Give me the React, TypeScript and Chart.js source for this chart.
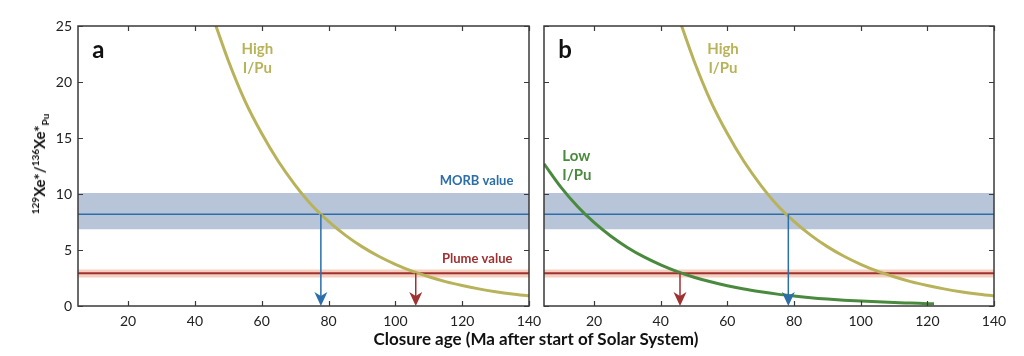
import React, { useEffect, useRef } from "react";
import { Chart, registerables } from "chart.js";
Chart.register(...registerables);

// ---- data ----
const highX = [45, 50, 55, 60, 65, 70, 75, 80, 85, 90, 95, 100, 105, 110, 115, 120, 125, 130, 135, 140];
const highY = [26.1, 21.9, 18.3, 15.4, 12.9, 10.8, 9.0, 7.56, 6.33, 5.3, 4.44, 3.72, 3.11, 2.61, 2.18, 1.83, 1.53, 1.28, 1.07, 0.9];
const lowX = [5, 10, 15, 20, 25, 30, 35, 40, 45, 50, 55, 60, 65, 70, 75, 80, 85, 90, 95, 100, 105, 110, 115, 120, 122];
const lowY = [12.7, 10.64, 8.91, 7.46, 6.25, 5.23, 4.38, 3.67, 3.07, 2.57, 2.16, 1.81, 1.51, 1.27, 1.06, 0.89, 0.74, 0.62, 0.52, 0.44, 0.37, 0.31, 0.26, 0.21, 0.19];
const morbValue = 8.2;
const morbRange = [6.85, 10.1];
const plumeValue = 2.92;
const plumeRange = [2.54, 3.25];
const arrowsA = [ { x: 77.7, y: 8.2, kind: "morb" }, { x: 106.1, y: 2.95, kind: "plume" } ];
const arrowsB = [ { x: 78.3, y: 8.2, kind: "morb" }, { x: 45.8, y: 2.95, kind: "plume" } ];
const xTicks = [20, 40, 60, 80, 100, 120, 140];
const yTicks = [0, 5, 10, 15, 20, 25];
const xRange = [5, 140];
const yRange = [0, 25];

const FONT = "Lato, 'Open Sans', sans-serif";
const OLIVE = "#b8b35a";
const GREEN = "#4a8a3e";
const BLUE = "#2b6ea9";
const BLUE_BAND = "#b8c5d9";
const RED = "#a03131";
const RED_BAND = "#f5cfc0";

const pts = (xs: number[], ys: number[]) => xs.map((x, i) => ({ x, y: ys[i] }));
const hline = (v: number) => [{ x: xRange[0], y: v }, { x: xRange[1], y: v }];

type Label = { x: number; y: number; text: string; color: string; size: number; align?: CanvasTextAlign };

const framePlugin = {
  id: "frame",
  afterDatasetsDraw(chart: any, _a: any, opts: any) {
    const { ctx, chartArea: ca, scales } = chart;
    const xs = scales.x, ys = scales.y;
    ctx.save();
    // arrows
    (opts.arrows || []).forEach((a: any) => {
      const col = a.kind === "morb" ? BLUE : RED;
      const px = xs.getPixelForValue(a.x);
      const py = ys.getPixelForValue(a.y);
      const p0 = ys.getPixelForValue(0);
      ctx.strokeStyle = col;
      ctx.fillStyle = col;
      ctx.lineWidth = 1.5;
      ctx.beginPath();
      ctx.moveTo(px, py);
      ctx.lineTo(px, p0 - 8);
      ctx.stroke();
      ctx.beginPath();
      ctx.moveTo(px, p0);
      ctx.lineTo(px - 6.5, p0 - 14);
      ctx.lineTo(px, p0 - 10);
      ctx.lineTo(px + 6.5, p0 - 14);
      ctx.closePath();
      ctx.fill();
    });
    // labels
    (opts.labels || []).forEach((l: Label) => {
      ctx.fillStyle = l.color;
      ctx.font = `bold ${l.size}px ${FONT}`;
      ctx.textAlign = l.align || "center";
      ctx.textBaseline = "middle";
      ctx.fillText(l.text, xs.getPixelForValue(l.x), ys.getPixelForValue(l.y));
    });
    // frame
    ctx.strokeStyle = "#3a3a3a";
    ctx.lineWidth = 1.5;
    ctx.strokeRect(ca.left, ca.top, ca.right - ca.left, ca.bottom - ca.top);
    ctx.lineWidth = 1.2;
    const tl = 5;
    ctx.beginPath();
    xTicks.forEach((v) => {
      const px = Math.round(xs.getPixelForValue(v)) + 0.5;
      ctx.moveTo(px, ca.bottom); ctx.lineTo(px, ca.bottom - tl);
      ctx.moveTo(px, ca.top); ctx.lineTo(px, ca.top + tl);
    });
    yTicks.forEach((v) => {
      const py = Math.round(ys.getPixelForValue(v)) + 0.5;
      ctx.moveTo(ca.left, py); ctx.lineTo(ca.left + tl, py);
      ctx.moveTo(ca.right, py); ctx.lineTo(ca.right - tl, py);
    });
    ctx.stroke();
    ctx.restore();
  },
};

function makeConfig(panel: "a" | "b") {
  const datasets: any[] = [
    { data: pts(highX, highY), borderColor: OLIVE, borderWidth: 3, pointRadius: 0, cubicInterpolationMode: "monotone", order: 0, fill: false },
  ];
  if (panel === "b") {
    datasets.push({ data: pts(lowX, lowY), borderColor: GREEN, borderWidth: 3, pointRadius: 0, cubicInterpolationMode: "monotone", order: 0, fill: false });
  }
  datasets.push(
    { data: hline(morbValue), borderColor: BLUE, borderWidth: 1.5, pointRadius: 0, order: 1, fill: false },
    { data: hline(plumeValue), borderColor: RED, borderWidth: 2, pointRadius: 0, order: 1, fill: false },
  );
  const n = datasets.length;
  datasets.push(
    { data: hline(morbRange[1]), borderWidth: 0, pointRadius: 0, backgroundColor: BLUE_BAND, fill: n + 1, order: 2 },
    { data: hline(morbRange[0]), borderWidth: 0, pointRadius: 0, fill: false, order: 2 },
    { data: hline(plumeRange[1]), borderWidth: 0, pointRadius: 0, backgroundColor: RED_BAND, fill: n + 3, order: 2 },
    { data: hline(plumeRange[0]), borderWidth: 0, pointRadius: 0, fill: false, order: 2 },
  );
  const labels: Label[] = [
    { x: 58.7, y: 22.9, text: "High", color: OLIVE, size: 15 },
    { x: 58.7, y: 21.2, text: "I/Pu", color: OLIVE, size: 15 },
  ];
  if (panel === "a") {
    labels.push(
      { x: 9.3, y: 22.8, text: "a", color: "#111", size: 24, align: "left" },
      { x: 124.3, y: 11.2, text: "MORB value", color: BLUE, size: 13 },
      { x: 124.5, y: 4.2, text: "Plume value", color: RED, size: 13 },
    );
  } else {
    labels.push(
      { x: 9.3, y: 22.8, text: "b", color: "#111", size: 24, align: "left" },
      { x: 10.5, y: 13.4, text: "Low", color: GREEN, size: 15, align: "left" },
      { x: 10.5, y: 11.7, text: "I/Pu", color: GREEN, size: 15, align: "left" },
    );
  }
  return {
    type: "line",
    data: { datasets },
    plugins: [framePlugin],
    options: {
      animation: false,
      responsive: false,
      parsing: false,
      layout: { padding: panel === "a" ? { left: 0, right: 24, top: 18, bottom: 0 } : { left: 14, right: 22, top: 18, bottom: 0 } },
      plugins: {
        legend: { display: false },
        tooltip: { enabled: false },
        frame: { arrows: panel === "a" ? arrowsA : arrowsB, labels },
      },
      scales: {
        x: {
          type: "linear",
          min: xRange[0],
          max: xRange[1],
          grid: { display: false, drawTicks: false },
          border: { display: false },
          afterBuildTicks: (s: any) => { s.ticks = xTicks.map((v) => ({ value: v })); },
          afterFit: (s: any) => { s.height = 32; },
          ticks: { padding: 7, color: "#222", font: { family: FONT, size: 14 }, maxRotation: 0 },
        },
        y: {
          type: "linear",
          min: yRange[0],
          max: yRange[1],
          display: panel === "a",
          grid: { display: false, drawTicks: false },
          border: { display: false },
          afterBuildTicks: (s: any) => { s.ticks = yTicks.map((v) => ({ value: v })); },
          afterFit: (s: any) => { s.width = panel === "a" ? 70 : 0; },
          ticks: { padding: 6, color: "#222", font: { family: FONT, size: 14 } },
        },
      },
    },
  };
}

function Panel({ panel, left, width }: { panel: "a" | "b"; left: number; width: number }) {
  const ref = useRef<HTMLCanvasElement>(null);
  useEffect(() => {
    const c = new Chart(ref.current as HTMLCanvasElement, makeConfig(panel) as any);
    return () => c.destroy();
  }, [panel]);
  return (
    <canvas ref={ref} width={width} height={330} style={{ position: "absolute", left, top: 0, width, height: 330 }} />
  );
}

export default function App() {
  return (
    <div style={{ position: "relative", width: 1008, height: 340, fontFamily: FONT }}>
      <Panel panel="a" left={0} width={545} />
      <Panel panel="b" left={522} width={486} />
      <div
        style={{
          position: "absolute",
          left: 32,
          top: 156,
          transform: "translate(-50%, -50%) rotate(-90deg)",
          whiteSpace: "nowrap",
          fontWeight: 700,
          fontSize: 15,
          color: "#111",
          lineHeight: 1,
        }}
      >
        <sup style={{ fontSize: 10 }}>129</sup>Xe*/<sup style={{ fontSize: 10 }}>136</sup>Xe*<sub style={{ fontSize: 10 }}>Pu</sub>
      </div>
      <div
        style={{
          position: "absolute",
          left: 528,
          top: 322,
          whiteSpace: "nowrap",
          fontWeight: 700,
          fontSize: 17,
          lineHeight: "18px",
          color: "#111",
          transform: "translateX(-50%)",
        }}
      >
        Closure age (Ma after start of Solar System)
      </div>
    </div>
  );
}
